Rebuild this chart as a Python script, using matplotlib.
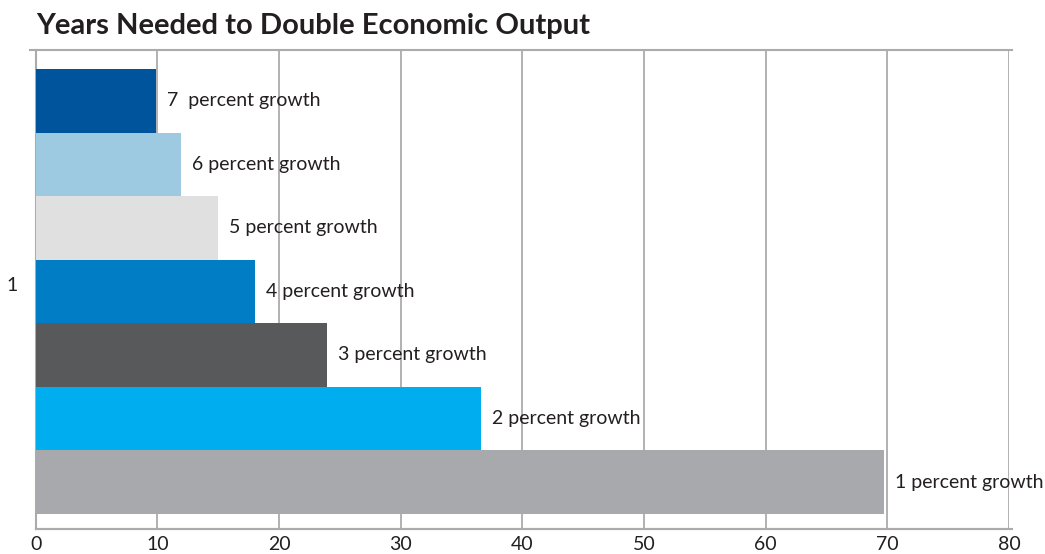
import matplotlib
matplotlib.use("Agg")
import matplotlib.pyplot as plt
from matplotlib.lines import Line2D

# Years needed to double output at each annual growth rate
labels = ["1 percent growth", "2 percent growth", "3 percent growth",
          "4 percent growth", "5 percent growth", "6 percent growth",
          "7  percent growth"]
years = [69.7, 36.6, 23.9, 18.0, 15.0, 11.9, 9.9]
colors = ["#A7A9AC", "#00AEEF", "#58595B", "#007DC5", "#E0E0E0",
          "#9ECAE1", "#00549C"]
x_ticks = [0, 10, 20, 30, 40, 50, 60, 70, 80]
category = "1"

plt.rcParams["font.family"] = ["Lato", "DejaVu Sans"]
text_color = "#231F20"
grid_color = "#ABABAB"

fig = plt.figure(figsize=(10.45, 5.54), dpi=100)
ax = fig.add_axes([0.0342, 0.0451, 0.9314, 0.8646])

positions = list(range(len(years)))
ax.barh(positions, years, height=1.0, color=colors, zorder=3)

for pos, val, lab in zip(positions, years, labels):
    ax.annotate(lab, (val, pos), xytext=(8, 0), textcoords="offset points",
                va="center", ha="left", fontsize=14, color=text_color,
                zorder=4)

ax.set_xlim(0, 80)
ax.set_ylim(-0.74, 6.80)
ax.set_xticks(x_ticks)
ax.set_xticklabels([str(t) for t in x_ticks], fontsize=14, color=text_color)
ax.set_yticks([3.12])
ax.set_yticklabels([category], fontsize=14, color=text_color)
ax.tick_params(axis="both", length=0)
ax.tick_params(axis="x", pad=5)
ax.tick_params(axis="y", pad=13)

ax.xaxis.grid(True, color=grid_color, linewidth=1.3, zorder=0)
ax.set_axisbelow(True)

for side in ["top", "right"]:
    ax.spines[side].set_visible(False)
for side in ["left", "bottom"]:
    ax.spines[side].set_color(grid_color)
    ax.spines[side].set_linewidth(1.5)

# rule beneath the title and extension of the baseline
ax.add_line(Line2D([-0.45, 80.25], [1, 1], transform=ax.get_xaxis_transform(),
                   color=grid_color, linewidth=1.5, clip_on=False))
ax.add_line(Line2D([0, 80.25], [0, 0], transform=ax.get_xaxis_transform(),
                   color=grid_color, linewidth=1.5, clip_on=False))

fig.text(0.035, 0.953, "Years Needed to Double Economic Output",
         fontsize=21, fontweight="bold", color=text_color,
         ha="left", va="center")

fig.savefig("out.png", dpi=100, facecolor="white")
